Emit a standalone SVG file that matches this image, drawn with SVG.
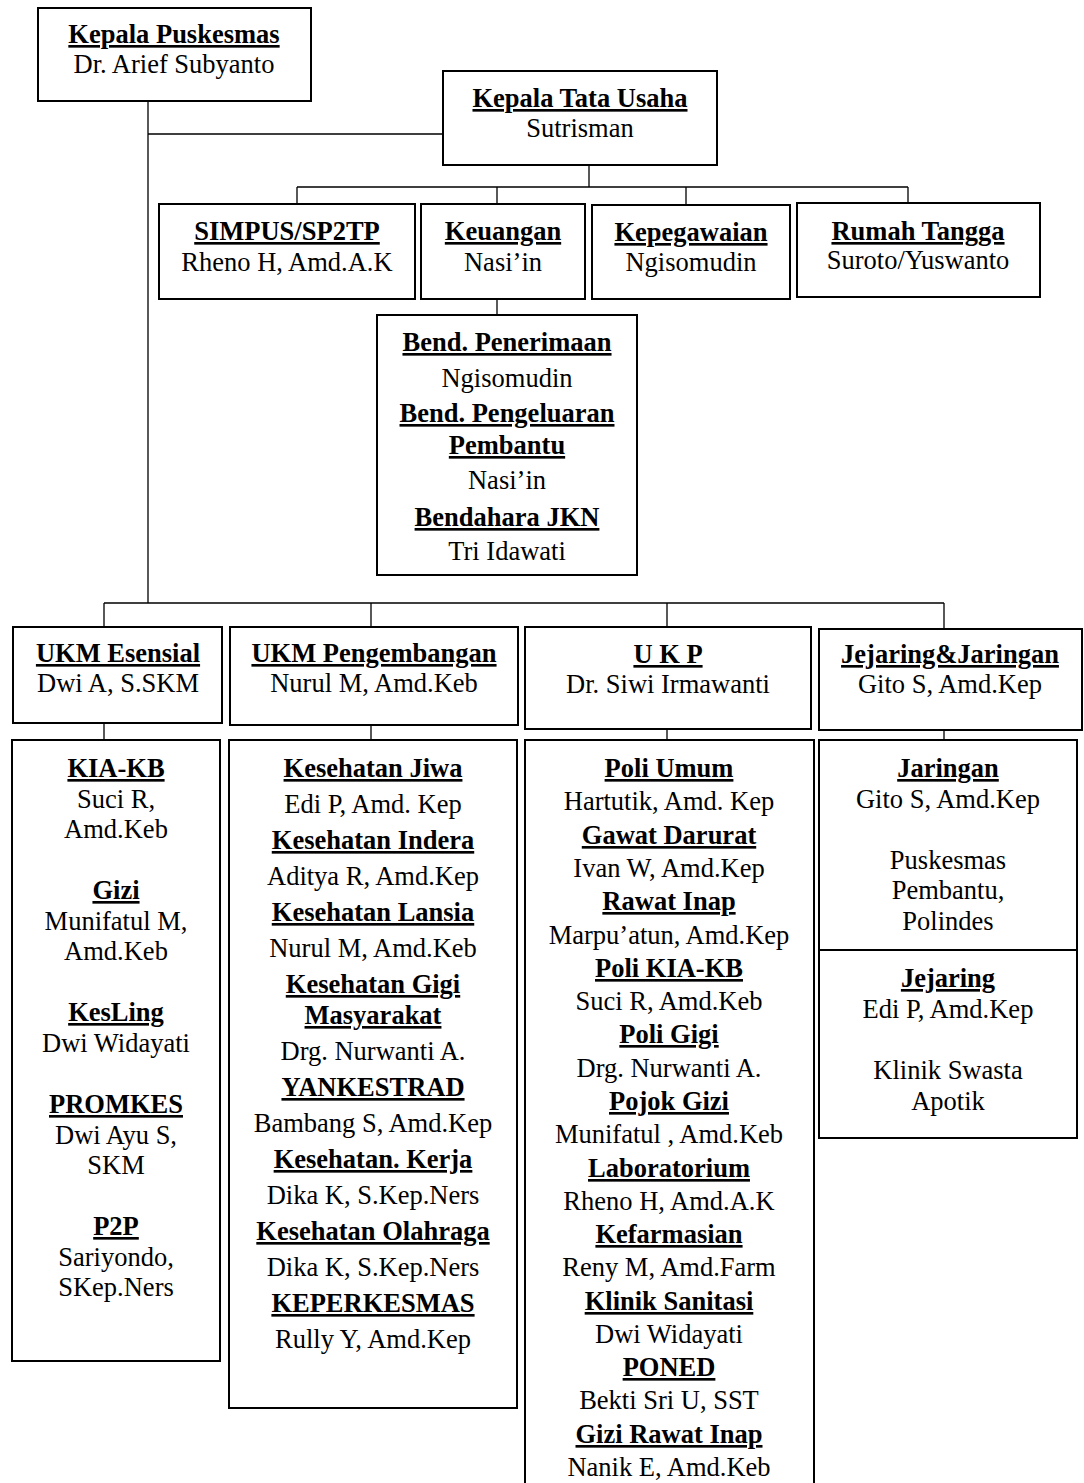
<svg xmlns="http://www.w3.org/2000/svg" width="1084" height="1483" viewBox="0 0 1084 1483">
<style>
.box{fill:#fff;stroke:#000;stroke-width:2}
.ln{fill:none;stroke:#000;stroke-width:1.3}
text{font-family:"Liberation Serif","Times New Roman",serif;font-size:26.5px;text-anchor:middle;fill:#000}
.t{font-weight:bold;text-decoration:underline}
</style>
<rect width="1084" height="1483" fill="#fff"/>
<g id="connectors">
<path class="ln" d="M148 101V603M148 134H443"/>
<path class="ln" d="M589 165V187M297 187H908M297 187V204M497 187V204M686 187V205M908 187V203"/>
<path class="ln" d="M497 299V315"/>
<path class="ln" d="M104 603H944M104 603V627M371 603V627M667 603V628M944 603V629"/>
<path class="ln" d="M104 723V740M371 725V740M667 729V740M944 730V740"/>
</g>
<g id="kepala-puskesmas">
<rect class="box" x="38" y="8" width="273" height="93"/>
<text class="t" x="174" y="43">Kepala Puskesmas</text>
<text x="174" y="73">Dr. Arief Subyanto</text>
</g>
<g id="kepala-tata-usaha">
<rect class="box" x="443" y="71" width="274" height="94"/>
<text class="t" x="580" y="107">Kepala Tata Usaha</text>
<text x="580" y="137">Sutrisman</text>
</g>
<g id="simpus">
<rect class="box" x="159" y="204" width="256" height="95"/>
<text class="t" x="287" y="240">SIMPUS/SP2TP</text>
<text x="287" y="271">Rheno H, Amd.A.K</text>
</g>
<g id="keuangan">
<rect class="box" x="421" y="204" width="164" height="95"/>
<text class="t" x="503" y="240">Keuangan</text>
<text x="503" y="271">Nasi’in</text>
</g>
<g id="kepegawaian">
<rect class="box" x="592" y="205" width="198" height="94"/>
<text class="t" x="691" y="241">Kepegawaian</text>
<text x="691" y="271">Ngisomudin</text>
</g>
<g id="rumah-tangga">
<rect class="box" x="797" y="203" width="243" height="94"/>
<text class="t" x="918" y="240">Rumah Tangga</text>
<text x="918" y="269">Suroto/Yuswanto</text>
</g>
<g id="bendahara">
<rect class="box" x="377" y="315" width="260" height="260"/>
<text class="t" x="507" y="351">Bend. Penerimaan</text>
<text x="507" y="387">Ngisomudin</text>
<text class="t" x="507" y="422">Bend. Pengeluaran</text>
<text class="t" x="507" y="454">Pembantu</text>
<text x="507" y="489">Nasi’in</text>
<text class="t" x="507" y="526">Bendahara JKN</text>
<text x="507" y="560">Tri Idawati</text>
</g>
<g id="ukm-esensial">
<rect class="box" x="13" y="627" width="209" height="96"/>
<text class="t" x="118" y="662">UKM Esensial</text>
<text x="118" y="692">Dwi A, S.SKM</text>
</g>
<g id="ukm-pengembangan">
<rect class="box" x="230" y="627" width="288" height="98"/>
<text class="t" x="374" y="662">UKM Pengembangan</text>
<text x="374" y="692">Nurul M, Amd.Keb</text>
</g>
<g id="ukp">
<rect class="box" x="525" y="627" width="286" height="102"/>
<text class="t" x="668" y="663">U K P</text>
<text x="668" y="693">Dr. Siwi Irmawanti</text>
</g>
<g id="jejaring-jaringan">
<rect class="box" x="819" y="629" width="263" height="101"/>
<text class="t" x="950" y="663">Jejaring&amp;Jaringan</text>
<text x="950" y="693">Gito S, Amd.Kep</text>
</g>
<g id="ukm-esensial-detail">
<rect class="box" x="12" y="740" width="208" height="621"/>
<text class="t" x="116" y="777">KIA-KB</text>
<text x="116" y="808">Suci R,</text>
<text x="116" y="838">Amd.Keb</text>
<text class="t" x="116" y="899">Gizi</text>
<text x="116" y="930">Munifatul M,</text>
<text x="116" y="960">Amd.Keb</text>
<text class="t" x="116" y="1021">KesLing</text>
<text x="116" y="1052">Dwi Widayati</text>
<text class="t" x="116" y="1113">PROMKES</text>
<text x="116" y="1144">Dwi Ayu S,</text>
<text x="116" y="1174">SKM</text>
<text class="t" x="116" y="1235">P2P</text>
<text x="116" y="1266">Sariyondo,</text>
<text x="116" y="1296">SKep.Ners</text>
</g>
<g id="ukm-pengembangan-detail">
<rect class="box" x="229" y="740" width="288" height="668"/>
<text class="t" x="373" y="777">Kesehatan Jiwa</text>
<text x="373" y="813">Edi P, Amd. Kep</text>
<text class="t" x="373" y="849">Kesehatan Indera</text>
<text x="373" y="885">Aditya R, Amd.Kep</text>
<text class="t" x="373" y="921">Kesehatan Lansia</text>
<text x="373" y="957">Nurul M, Amd.Keb</text>
<text class="t" x="373" y="993">Kesehatan Gigi</text>
<text class="t" x="373" y="1024">Masyarakat</text>
<text x="373" y="1060">Drg. Nurwanti A.</text>
<text class="t" x="373" y="1096">YANKESTRAD</text>
<text x="373" y="1132">Bambang S, Amd.Kep</text>
<text class="t" x="373" y="1168">Kesehatan. Kerja</text>
<text x="373" y="1204">Dika K, S.Kep.Ners</text>
<text class="t" x="373" y="1240">Kesehatan Olahraga</text>
<text x="373" y="1276">Dika K, S.Kep.Ners</text>
<text class="t" x="373" y="1312">KEPERKESMAS</text>
<text x="373" y="1348">Rully Y, Amd.Kep</text>
</g>
<g id="ukp-detail">
<rect class="box" x="525" y="740" width="289" height="760"/>
<text class="t" x="669" y="777">Poli Umum</text>
<text x="669" y="810">Hartutik, Amd. Kep</text>
<text class="t" x="669" y="844">Gawat Darurat</text>
<text x="669" y="877">Ivan W, Amd.Kep</text>
<text class="t" x="669" y="910">Rawat Inap</text>
<text x="669" y="944">Marpu’atun, Amd.Kep</text>
<text class="t" x="669" y="977">Poli KIA-KB</text>
<text x="669" y="1010">Suci R, Amd.Keb</text>
<text class="t" x="669" y="1043">Poli Gigi</text>
<text x="669" y="1077">Drg. Nurwanti A.</text>
<text class="t" x="669" y="1110">Pojok Gizi</text>
<text x="669" y="1143">Munifatul , Amd.Keb</text>
<text class="t" x="669" y="1177">Laboratorium</text>
<text x="669" y="1210">Rheno H, Amd.A.K</text>
<text class="t" x="669" y="1243">Kefarmasian</text>
<text x="669" y="1276">Reny M, Amd.Farm</text>
<text class="t" x="669" y="1310">Klinik Sanitasi</text>
<text x="669" y="1343">Dwi Widayati</text>
<text class="t" x="669" y="1376">PONED</text>
<text x="669" y="1409">Bekti Sri U, SST</text>
<text class="t" x="669" y="1443">Gizi Rawat Inap</text>
<text x="669" y="1476">Nanik E, Amd.Keb</text>
</g>
<g id="jejaring-detail">
<rect class="box" x="819" y="740" width="258" height="398"/>
<path class="ln" d="M819 950H1077" style="stroke-width:2"/>
<text class="t" x="948" y="777">Jaringan</text>
<text x="948" y="808">Gito S, Amd.Kep</text>
<text x="948" y="869">Puskesmas</text>
<text x="948" y="899">Pembantu,</text>
<text x="948" y="930">Polindes</text>
<text class="t" x="948" y="987">Jejaring</text>
<text x="948" y="1018">Edi P, Amd.Kep</text>
<text x="948" y="1079">Klinik Swasta</text>
<text x="948" y="1110">Apotik</text>
</g>
</svg>
